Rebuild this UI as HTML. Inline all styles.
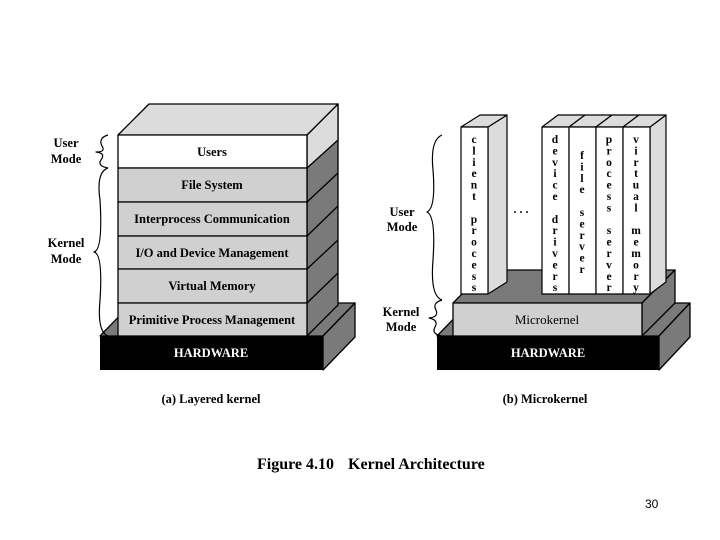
<!DOCTYPE html>
<html><head><meta charset="utf-8"><style>
html,body{margin:0;padding:0;background:#fff;width:720px;height:540px;overflow:hidden}
svg{display:block}
.t{font-family:"Liberation Serif",serif;font-weight:bold;fill:#000}
</style></head><body>
<svg width="720" height="540" viewBox="0 0 720 540" xmlns="http://www.w3.org/2000/svg" stroke-linejoin="round">
<!-- LEFT DIAGRAM -->
<polygon points="100,336 132,303 355,303 323,336" fill="#7a7a7a" stroke="#000" stroke-width="1.3"/>
<polygon points="323,336 355,303 355,337 323,370" fill="#7a7a7a" stroke="#000" stroke-width="1.3"/>
<rect x="100" y="336" width="223" height="34" fill="#000"/>
<text x="211" y="357" class="t" font-size="12.5" style="fill:#fff" text-anchor="middle">HARDWARE</text>
<polygon points="307,135 338,104 338,305 307,336" fill="#7a7a7a" stroke="#000" stroke-width="1.3"/>
<polygon points="307,135 338,104 338,140 307,168" fill="#dcdcdc" stroke="#000" stroke-width="1.3"/>
<g stroke="#000" stroke-width="1.3">
<line x1="307" y1="202" x2="338" y2="173"/><line x1="307" y1="236" x2="338" y2="206"/>
<line x1="307" y1="269" x2="338" y2="240"/><line x1="307" y1="303" x2="338" y2="273"/>
</g>
<polygon points="118,135 149,104 338,104 307,135" fill="#dcdcdc" stroke="#000" stroke-width="1.3"/>
<rect x="118" y="135" width="189" height="33" fill="#fff" stroke="#000" stroke-width="1.3"/>
<rect x="118" y="168" width="189" height="34" fill="#d0d0d0" stroke="#000" stroke-width="1.3"/>
<rect x="118" y="202" width="189" height="34" fill="#d0d0d0" stroke="#000" stroke-width="1.3"/>
<rect x="118" y="236" width="189" height="33" fill="#d0d0d0" stroke="#000" stroke-width="1.3"/>
<rect x="118" y="269" width="189" height="34" fill="#d0d0d0" stroke="#000" stroke-width="1.3"/>
<rect x="118" y="303" width="189" height="33" fill="#d0d0d0" stroke="#000" stroke-width="1.3"/>
<g class="t" font-size="12.5" text-anchor="middle">
<text x="212" y="156">Users</text>
<text x="212" y="189">File System</text>
<text x="212" y="223">Interprocess Communication</text>
<text x="212" y="257">I/O and Device Management</text>
<text x="212" y="290">Virtual Memory</text>
<text x="212" y="324">Primitive Process Management</text>
</g>
<path d="M108,135 Q98,138 102,146 Q106,152 96,152 Q106,153 101,160 Q97,166 108,168" fill="none" stroke="#000" stroke-width="1.2"/>
<path d="M108,168 Q96,172 100,200 Q103,250 94,252 Q103,254 100,300 Q97,332 108,336" fill="none" stroke="#000" stroke-width="1.2"/>
<g class="t" font-size="12.5" text-anchor="middle">
<text x="66" y="147">User</text><text x="66" y="163">Mode</text>
<text x="66" y="247">Kernel</text><text x="66" y="263">Mode</text>
</g>

<!-- RIGHT DIAGRAM -->
<polygon points="437,336 469,303 690,303 659,336" fill="#7a7a7a" stroke="#000" stroke-width="1.3"/>
<polygon points="659,336 690,303 690,337 659,370" fill="#7a7a7a" stroke="#000" stroke-width="1.3"/>
<rect x="437" y="336" width="222" height="34" fill="#000"/>
<text x="548" y="357" class="t" font-size="12.5" style="fill:#fff" text-anchor="middle">HARDWARE</text>
<polygon points="453,303 486,270 675,270 642,303" fill="#7a7a7a" stroke="#000" stroke-width="1.3"/>
<polygon points="642,303 675,270 675,303 642,336" fill="#7a7a7a" stroke="#000" stroke-width="1.3"/>
<rect x="453" y="303" width="189" height="33" fill="#d0d0d0" stroke="#000" stroke-width="1.3"/>
<text x="547" y="324" class="t" font-size="13" text-anchor="middle" style="font-weight:normal">Microkernel</text>
<polygon points="488,127 507,115 507,282 488,294" fill="#dcdcdc" stroke="#000" stroke-width="1.2"/>
<polygon points="461,127 480,115 507,115 488,127" fill="#dcdcdc" stroke="#000" stroke-width="1.2"/>
<rect x="461" y="127" width="27" height="167" fill="#fff" stroke="#000" stroke-width="1.2"/>
<polygon points="650,127 666,115 666,282 650,294" fill="#dcdcdc" stroke="#000" stroke-width="1.2"/>
<polygon points="542,127 558,115 585,115 569,127" fill="#dcdcdc" stroke="#000" stroke-width="1.2"/>
<polygon points="569,127 585,115 612,115 596,127" fill="#dcdcdc" stroke="#000" stroke-width="1.2"/>
<polygon points="596,127 612,115 639,115 623,127" fill="#dcdcdc" stroke="#000" stroke-width="1.2"/>
<polygon points="623,127 639,115 666,115 650,127" fill="#dcdcdc" stroke="#000" stroke-width="1.2"/>
<rect x="542" y="127" width="27" height="167" fill="#fff" stroke="#000" stroke-width="1.2"/>
<rect x="569" y="127" width="27" height="167" fill="#fff" stroke="#000" stroke-width="1.2"/>
<rect x="596" y="127" width="27" height="167" fill="#fff" stroke="#000" stroke-width="1.2"/>
<rect x="623" y="127" width="27" height="167" fill="#fff" stroke="#000" stroke-width="1.2"/>
<text x="521" y="213" class="t" font-size="12" text-anchor="middle">. . .</text>
<g class="t" font-size="11.5" text-anchor="middle">
<text y="143"><tspan x="474">c</tspan><tspan x="474" dy="11.4">l</tspan><tspan x="474" dy="11.4">i</tspan><tspan x="474" dy="11.4">e</tspan><tspan x="474" dy="11.4">n</tspan><tspan x="474" dy="11.4">t</tspan><tspan x="474" dy="22.8">p</tspan><tspan x="474" dy="11.4">r</tspan><tspan x="474" dy="11.4">o</tspan><tspan x="474" dy="11.4">c</tspan><tspan x="474" dy="11.4">e</tspan><tspan x="474" dy="11.4">s</tspan><tspan x="474" dy="11.4">s</tspan></text>
<text y="143"><tspan x="555">d</tspan><tspan x="555" dy="11.4">e</tspan><tspan x="555" dy="11.4">v</tspan><tspan x="555" dy="11.4">i</tspan><tspan x="555" dy="11.4">c</tspan><tspan x="555" dy="11.4">e</tspan><tspan x="555" dy="22.8">d</tspan><tspan x="555" dy="11.4">r</tspan><tspan x="555" dy="11.4">i</tspan><tspan x="555" dy="11.4">v</tspan><tspan x="555" dy="11.4">e</tspan><tspan x="555" dy="11.4">r</tspan><tspan x="555" dy="11.4">s</tspan></text>
<text y="159"><tspan x="582">f</tspan><tspan x="582" dy="11.4">i</tspan><tspan x="582" dy="11.4">l</tspan><tspan x="582" dy="11.4">e</tspan><tspan x="582" dy="22.8">s</tspan><tspan x="582" dy="11.4">e</tspan><tspan x="582" dy="11.4">r</tspan><tspan x="582" dy="11.4">v</tspan><tspan x="582" dy="11.4">e</tspan><tspan x="582" dy="11.4">r</tspan></text>
<text y="143"><tspan x="609">p</tspan><tspan x="609" dy="11.4">r</tspan><tspan x="609" dy="11.4">o</tspan><tspan x="609" dy="11.4">c</tspan><tspan x="609" dy="11.4">e</tspan><tspan x="609" dy="11.4">s</tspan><tspan x="609" dy="11.4">s</tspan><tspan x="609" dy="22.8">s</tspan><tspan x="609" dy="11.4">e</tspan><tspan x="609" dy="11.4">r</tspan><tspan x="609" dy="11.4">v</tspan><tspan x="609" dy="11.4">e</tspan><tspan x="609" dy="11.4">r</tspan></text>
<text y="143"><tspan x="636">v</tspan><tspan x="636" dy="11.4">i</tspan><tspan x="636" dy="11.4">r</tspan><tspan x="636" dy="11.4">t</tspan><tspan x="636" dy="11.4">u</tspan><tspan x="636" dy="11.4">a</tspan><tspan x="636" dy="11.4">l</tspan><tspan x="636" dy="22.8">m</tspan><tspan x="636" dy="11.4">e</tspan><tspan x="636" dy="11.4">m</tspan><tspan x="636" dy="11.4">o</tspan><tspan x="636" dy="11.4">r</tspan><tspan x="636" dy="11.4">y</tspan></text>
</g>
<path d="M442,135 Q430,140 433,170 Q436,208 427,212 Q436,216 433,260 Q430,296 442,300" fill="none" stroke="#000" stroke-width="1.2"/>
<path d="M442,300 Q432,303 436,310 Q439,317 429,318 Q439,320 435,327 Q431,334 442,336" fill="none" stroke="#000" stroke-width="1.2"/>
<g class="t" font-size="12.5" text-anchor="middle">
<text x="402" y="216">User</text><text x="402" y="231">Mode</text>
<text x="401" y="316">Kernel</text><text x="401" y="331">Mode</text>
</g>

<text x="211" y="403" class="t" font-size="12.5" text-anchor="middle">(a) Layered kernel</text>
<text x="545" y="403" class="t" font-size="12.5" text-anchor="middle">(b) Microkernel</text>
<text x="257" y="469" class="t" font-size="16">Figure 4.10<tspan dx="14">Kernel Architecture</tspan></text>
<text x="645" y="508" font-family="Liberation Sans, sans-serif" font-size="12" fill="#000">30</text>
</svg>
</body></html>
